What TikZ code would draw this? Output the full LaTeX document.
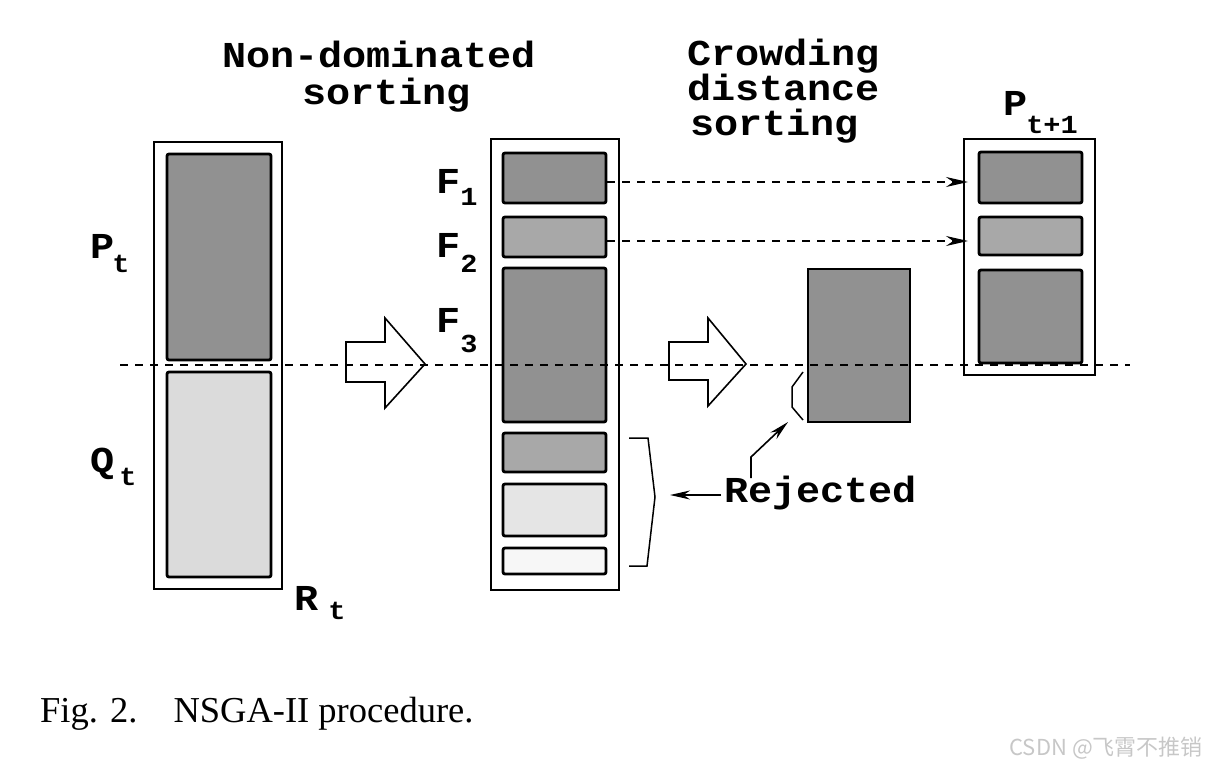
\documentclass[tikz,border=0pt]{standalone}
\usepackage{fontspec}
\setmainfont{Liberation Serif}
\setmonofont{Liberation Mono}[FakeStretch=1.1]
\newfontfamily\cjk{Noto Sans CJK SC}
\usetikzlibrary{arrows.meta,calc}
\newcommand\mysubfont{\fontsize{26}{26}\selectfont}
\definecolor{gdark}{gray}{0.57}
\definecolor{gmid}{gray}{0.66}
\definecolor{glight}{gray}{0.86}
\definecolor{gpale}{gray}{0.90}
\definecolor{gwhite}{gray}{0.97}
\begin{document}
\begin{tikzpicture}[x=1pt,y=-1pt,
  outer/.style={draw, line width=2pt, rectangle, inner sep=0pt},
  inner/.style={draw, line width=2.8pt, rounded corners=2pt, inner sep=0pt},
  lab/.style={font=\ttfamily\bfseries\fontsize{36.5}{36.5}\selectfont, inner sep=0pt},
  title/.style={lab, text height=24pt, text depth=7pt, anchor=base west},
  dline/.style={dash pattern=on 8pt off 7pt, line width=1.2pt},
  arr/.style={line width=1.6pt, -{Stealth[length=20pt,width=9pt]}},
  blockarrow/.style={line width=1.6pt, line join=miter},
  bracket/.style={line width=1.5pt}
]
\useasboundingbox (0,0) rectangle (1206,768);

% titles
\node[title] (t1a) at (222,67) {Non-dominated};
\node[title] (t1b) at (302,104) {sorting};
\node[title] (t2a) at (687,65) {Crowding};
\node[title] (t2b) at (687,100) {distance};
\node[title] (t2c) at (690,135) {sorting};

% left column
\node[outer, minimum width=128, minimum height=447] (R) at (218,365.5) {};
\node[inner, fill=gdark, minimum width=104, minimum height=206] (P) at (219,257) {};
\node[inner, fill=glight, minimum width=104, minimum height=205] (Q) at (219,474.5) {};
\node[lab, anchor=base west] (Pl) at (90,258) {P\kern-2pt\raisebox{-14pt}{\mysubfont t}};
\node[lab, anchor=base west] (Ql) at (90,472) {Q\kern5pt\raisebox{-13pt}{\mysubfont t}};
\node[lab, anchor=base west] (Rl) at (294,610) {R\kern10pt\raisebox{-9pt}{\mysubfont t}};

% middle column
\node[outer, minimum width=128, minimum height=451] (M) at (555,364.5) {};
\node[inner, fill=gdark, minimum width=103, minimum height=50] (F1) at (554.5,178) {};
\node[inner, fill=gmid, minimum width=103, minimum height=40] (F2) at (554.5,237) {};
\node[inner, fill=gdark, minimum width=103, minimum height=154] (F3) at (554.5,345) {};
\node[inner, fill=gmid, minimum width=103, minimum height=39] (B4) at (554.5,452.5) {};
\node[inner, fill=gpale, minimum width=103, minimum height=52] (B5) at (554.5,510) {};
\node[inner, fill=gwhite, minimum width=103, minimum height=26] (B6) at (554.5,561) {};
\node[lab, anchor=base west] (F1l) at (436,193) {F\raisebox{-12pt}{\mysubfont 1}};
\node[lab, anchor=base west] (F2l) at (436,257) {F\raisebox{-15pt}{\mysubfont 2}};
\node[lab, anchor=base west] (F3l) at (436,332) {F\raisebox{-20pt}{\mysubfont 3}};

% crowding box
\node[inner, fill=gdark, rounded corners=0pt, minimum width=102, minimum height=153] (C) at (859,345.5) {};

% right column
\node[outer, minimum width=131, minimum height=236] (Rout) at (1029.5,257) {};
\node[inner, fill=gdark, minimum width=103, minimum height=51] (N1) at (1030.5,177.5) {};
\node[inner, fill=gmid, minimum width=103, minimum height=38] (N2) at (1030.5,236) {};
\node[inner, fill=gdark, minimum width=103, minimum height=93] (N3) at (1030.5,316.5) {};
\node[lab, anchor=base west] (Nl) at (1003,115) {P\kern-1pt\raisebox{-18pt}{\mysubfont t+1}};

% block arrows
\draw[blockarrow] (346,342) -- (385,342) -- (385,318) -- (425,364) -- (385,408) -- (385,382) -- (346,382) -- cycle;
\draw[blockarrow] (669,342) -- (708,342) -- (708,318) -- (746,364) -- (708,406) -- (708,380) -- (669,380) -- cycle;

% dashed arrows to P_{t+1}
\draw[dline, -{Stealth[length=22pt,width=10pt]}] ($(F1.east)+(0,4)$) -- ($(F1.east -| Rout.west)+(5,4)$);
\draw[dline, -{Stealth[length=22pt,width=10pt]}] ($(F2.east)+(0,4)$) -- ($(F2.east -| Rout.west)+(5,4)$);

% brackets
\draw[bracket] (629,438) -- (648,438) -- (655,497) -- (647,566) -- (629,566);
\draw[bracket] (803,372) -- (792,387) -- (792,407) -- (803,420);

% rejected
\node[lab, anchor=base west] (rej) at (724,502) {Rejected};
\coordinate (rejtip) at (670,495);
\coordinate (rejup) at (751,478);
\coordinate (cbtip) at (788,422);
\draw[arr] ([xshift=-3pt]rej.west |- rejtip) -- (rejtip);
\draw[arr] (rejup) -- ++(0,-21) -- (cbtip);

% dashed horizontal line
\coordinate (dl) at (120,365);
\coordinate (dr) at (1130,365);
\draw[dline] (dl) -- (dr);

% caption
\node[font=\fontsize{36.5}{40}\selectfont, anchor=base west, inner sep=0pt] (cap) at (40,722) {Fig. 2.\hspace{36pt}NSGA-II procedure.};

% watermark
\node[font=\cjk\fontsize{22}{22}\selectfont, text=black!22, anchor=east, inner sep=0pt] (wm) at (1203,748) {CSDN @飞霄不推销};
\end{tikzpicture}
\end{document}
